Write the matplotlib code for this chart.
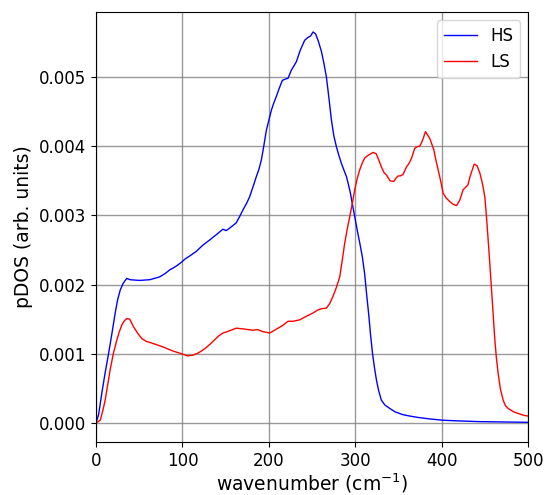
import matplotlib
matplotlib.use("Agg")
import matplotlib.pyplot as plt

hs_w = [0, 3, 6.7, 10.5, 14.5, 18.5, 22.2, 25, 28, 31.5, 35.6, 39.5, 50.3, 62, 73.5, 80, 85, 92, 98.6,
        103, 108, 116, 123.6, 131, 139, 146.8, 150.6, 156, 162, 166, 170, 174, 177.7, 181.5, 185.4,
        188.5, 191.2, 194, 197, 200, 202.8, 205.5, 208.6, 212, 215.5, 219, 222, 226, 231.7, 236, 241.3,
        245, 248, 251, 254, 257, 260.6, 263.5, 266.4, 269.5, 272.2, 275, 278, 281, 283.8, 286.5,
        289.6, 292, 294.2, 296.5, 299.2, 302, 305, 308, 310.8, 313, 315.5, 317.5, 319.7, 322,
        324.3, 327, 330, 334, 339.7, 346, 355, 363, 372.4, 385, 401, 420, 443, 470, 500]
hs_v = [0, 0.00012, 0.00043, 0.00072, 0.001, 0.0013, 0.00159, 0.00178, 0.00192, 0.00202, 0.00209,
        0.00207, 0.00206, 0.00207, 0.00211, 0.00216, 0.00221, 0.00226, 0.00232, 0.00237, 0.00241,
        0.00248, 0.00257, 0.00264, 0.00272, 0.0028, 0.00278, 0.00283, 0.00289, 0.00298, 0.00308,
        0.00317, 0.00327, 0.00341, 0.00356, 0.00367, 0.0038, 0.004, 0.00423, 0.00438, 0.00452,
        0.00462, 0.00472, 0.00484, 0.00495, 0.00497, 0.00498, 0.0051, 0.00522, 0.00538, 0.00553,
        0.00557, 0.00559, 0.00565, 0.00562, 0.00552, 0.00537, 0.0052, 0.005, 0.00468, 0.00438,
        0.00415, 0.00399, 0.00386, 0.00375, 0.00366, 0.00356, 0.00344, 0.00332, 0.00316, 0.00298,
        0.00279, 0.0026, 0.0024, 0.00214, 0.00185, 0.00155, 0.00127, 0.00101, 0.0008, 0.00062,
        0.00046, 0.00033, 0.00026, 0.00021, 0.00016, 0.00012, 0.0001, 0.00008, 0.00006, 0.00004,
        0.00003, 0.00002, 0.000015, 0.00001]

ls_w = [0, 4.9, 7.9, 10.6, 13.5, 16.4, 20, 24.1, 27, 30, 33, 35.6, 39, 43.4, 48, 53, 58, 65.7, 77.3,
        88.9, 96.6, 106, 112, 117.8, 122, 127.5, 132, 137, 142, 146.8, 154, 162, 170, 181.5, 187,
        193, 197, 200.8, 205, 210.4, 216, 222, 228, 235.5, 243, 251, 256, 260.6, 266.4, 270, 274,
        278, 281.8, 284.5, 287.6, 290.5, 293.4, 296.5, 299.2, 302, 305, 308, 310.8, 315, 320.4,
        324, 327, 330, 333, 336, 340, 344.3, 346.5, 349.3, 352, 355, 359, 362, 365, 368.6, 371,
        374.4, 377.5, 381, 386, 390.6, 393, 395.6, 398.5, 401.4, 405, 409, 413, 416.9, 420.7,
        424.5, 427, 430, 433, 437.3, 440.5, 443.9, 447, 449.6, 451.5, 453.5, 455.5, 457.4, 459.3,
        461.2, 463, 465, 467.5, 470.8, 473.5, 476.6, 483, 490, 495, 500]
ls_v = [0, 0.00004, 0.00018, 0.00033, 0.00055, 0.00077, 0.001, 0.0012, 0.00132, 0.00142, 0.00148,
        0.00151, 0.0015, 0.00139, 0.0013, 0.00122, 0.00118, 0.00115, 0.0011, 0.00104, 0.00101,
        0.00097, 0.00098, 0.00101, 0.00104, 0.00109, 0.00114, 0.0012, 0.00126, 0.0013, 0.00133,
        0.00137, 0.00136, 0.00134, 0.00135, 0.00132, 0.00131, 0.0013, 0.00133, 0.00137, 0.00141,
        0.00147, 0.00147, 0.00149, 0.00154, 0.00159, 0.00163, 0.00165, 0.00166, 0.00172, 0.00183,
        0.00196, 0.00211, 0.00233, 0.0026, 0.0028, 0.00298, 0.00318, 0.00337, 0.00353, 0.00366,
        0.00376, 0.00383, 0.00387, 0.00391, 0.00389, 0.0038, 0.0037, 0.00362, 0.00358, 0.0035,
        0.00349, 0.00353, 0.00357, 0.00357, 0.00359, 0.0037, 0.00375, 0.00383, 0.00397, 0.00399,
        0.004, 0.00408, 0.00421, 0.00411, 0.00395, 0.0038, 0.00366, 0.0035, 0.00332, 0.00325,
        0.0032, 0.00316, 0.00314, 0.00322, 0.00337, 0.0034, 0.00344, 0.00358, 0.00374, 0.00372,
        0.00361, 0.00345, 0.00327, 0.00298, 0.00264, 0.00228, 0.00192, 0.00156, 0.0012, 0.00094,
        0.00072, 0.0005, 0.00033, 0.00025, 0.00021, 0.00016, 0.00013, 0.00011, 0.0001]

fig = plt.figure(figsize=(5.47, 4.95), dpi=100)
ax = fig.add_axes([0.1755, 0.107, 0.7905, 0.869])
ax.plot(hs_w, hs_v, color="blue", lw=1.0, label="HS")
ax.plot(ls_w, ls_v, color="red", lw=1.0, label="LS")
ax.set_xlim(0, 500)
ax.set_ylim(-0.000275, 0.00594)
ax.set_yticks([0, 0.001, 0.002, 0.003, 0.004, 0.005])
ax.set_yticklabels(["0.000", "0.001", "0.002", "0.003", "0.004", "0.005"])
ax.set_xticks([0, 100, 200, 300, 400, 500])
ax.grid(True, color="#808080", lw=1.0, alpha=0.8)
ax.tick_params(labelsize=12)
ax.set_xlabel("wavenumber (cm$^{-1}$)", fontsize=13.5, labelpad=1)
ax.set_ylabel("pDOS (arb. units)", fontsize=13.5)
ax.legend(loc="upper right", fontsize=12)
fig.savefig("out.png", dpi=100)
